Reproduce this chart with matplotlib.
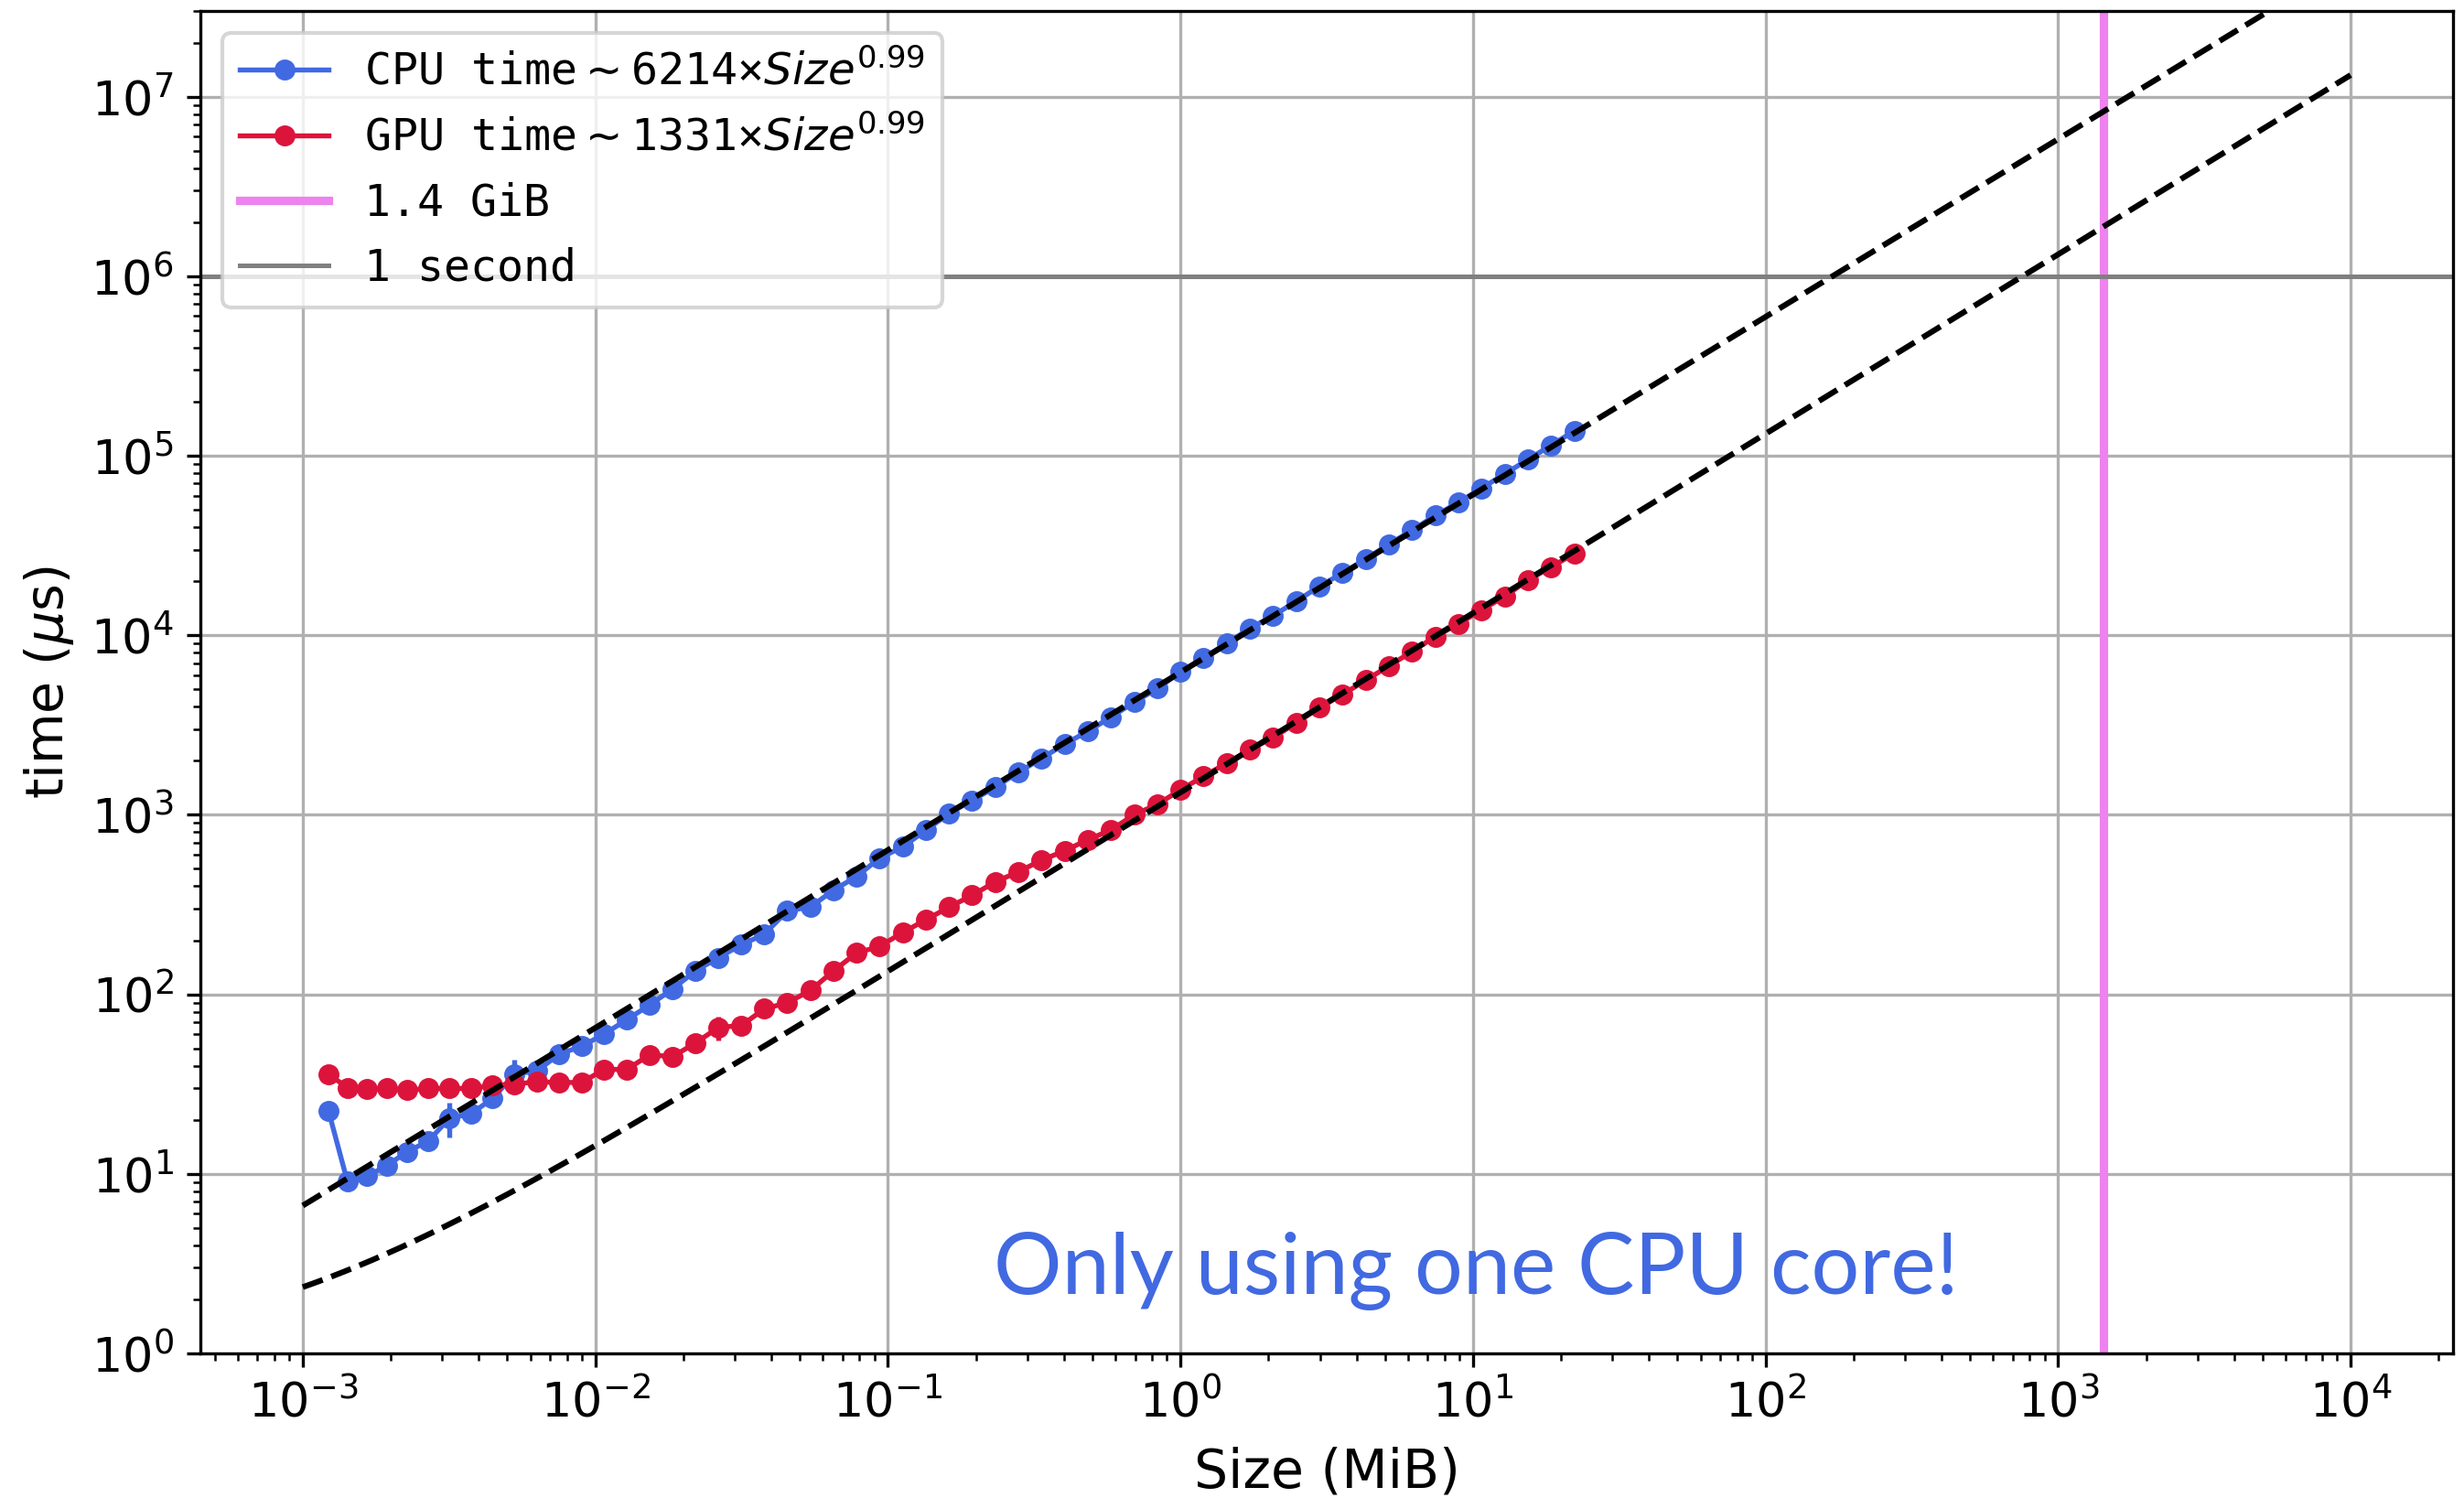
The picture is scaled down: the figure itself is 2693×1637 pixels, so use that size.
import numpy as np
import matplotlib
matplotlib.use("Agg")
import matplotlib.pyplot as plt

# ---------------- data ----------------
sizes_mib = [0.001224, 0.001420, 0.001655, 0.001937, 0.002276, 0.002682, 0.003170,
             0.003755, 0.004457, 0.005299, 0.006310, 0.007524, 0.008980, 0.01073,
             0.01282, 0.01534, 0.01836, 0.02198, 0.02633, 0.03155, 0.03781,
             0.04532, 0.05433, 0.06515, 0.07813, 0.09371, 0.1124, 0.1348,
             0.1618, 0.1941, 0.2328, 0.2793, 0.3351, 0.4021, 0.4825,
             0.5789, 0.6947, 0.8336, 1.000, 1.200, 1.440, 1.728,
             2.074, 2.488, 2.986, 3.583, 4.300, 5.160, 6.192,
             7.430, 8.916, 10.70, 12.84, 15.41, 18.49, 22.19]

cpu_time_us = [22.5, 9.1, 9.7, 11.1, 13.3, 15.2, 20.4,
               21.6, 26.3, 36.0, 37.4, 46.4, 51.4, 60.1,
               72.3, 87.2, 107, 135, 160, 189, 216,
               292, 306, 380, 453, 574, 663, 820,
               1017, 1203, 1425, 1723, 2062, 2478, 2916,
               3500, 4242, 5048, 6243, 7496, 8995, 10930,
               12850, 15440, 18750, 22180, 26620, 32140, 38430,
               46430, 54880, 65910, 79210, 95140, 114300, 137300]

gpu_time_us = [36.0, 30.2, 29.6, 29.9, 29.2, 29.9, 29.9,
               29.9, 31.1, 31.6, 32.6, 32.3, 32.3, 38.2,
               38.2, 46.0, 45.0, 53.5, 65.4, 67.0, 83.0,
               89.8, 105, 135, 170, 185, 221, 260,
               306, 356, 423, 481, 559, 630, 727,
               823, 1001, 1143, 1375, 1640, 1940, 2306,
               2698, 3243, 3956, 4677, 5620, 6748, 8110,
               9843, 11580, 13840, 16450, 20280, 23980, 28510]

cpu_err_us = [0, 1.0, 0, 0, 0, 0, 4.5,
              0, 0, 7.5, 0, 0, 0, 0,
              0, 0, 0, 0, 0, 0, 0,
              35, 0, 0, 0, 0, 0, 0,
              0, 0, 0, 0, 0, 0, 0,
              0, 0, 0, 0, 0, 0, 0,
              0, 0, 0, 0, 0, 0, 0,
              0, 0, 0, 0, 0, 0, 0]

gpu_err_us = [0, 0, 0, 0, 0, 0, 0,
              0, 0, 0, 0, 0, 0, 0,
              0, 0, 0, 0, 10, 0, 0,
              0, 0, 0, 0, 0, 0, 0,
              0, 0, 0, 0, 0, 0, 0,
              0, 0, 0, 0, 0, 0, 0,
              0, 0, 0, 0, 0, 0, 0,
              0, 0, 0, 0, 0, 0, 0]

# power-law fits  time = a * size^b + c
cpu_fit = dict(a=6214, b=0.99, c=0.0)
gpu_fit = dict(a=1331, b=0.999, c=1.0)
fit_range_mib = [1e-3, 1e4]

legend_labels = ["CPU time$\\sim$6214×$Size^{0.99}$",
                 "GPU time$\\sim$1331×$Size^{0.99}$",
                 "1.4 GiB",
                 "1 second"]
mem_limit_mib = 1.4 * 1024
one_second_us = 1e6
note_text = "Only using one CPU core!"
x_decades = [-3, -2, -1, 0, 1, 2, 3, 4]
y_decades = [0, 1, 2, 3, 4, 5, 6, 7]

# ---------------- figure ----------------
W, H, DPI = 2693, 1637, 300
fig = plt.figure(figsize=(W / DPI, H / DPI), dpi=DPI)
ax = fig.add_axes([219 / W, 1 - 1479 / H, (2681 - 219) / W, (1479 - 12) / H])

blue = "#4169E1"   # royalblue
red = "#DC143C"    # crimson

x = np.array(sizes_mib)
ax.plot(x, cpu_time_us, "o-", color=blue, ms=4.5, lw=1.3, label=legend_labels[0], zorder=3)
ax.errorbar(x, cpu_time_us, yerr=cpu_err_us, fmt="none", ecolor=blue, elinewidth=1.3, zorder=3)
ax.plot(x, gpu_time_us, "o-", color=red, ms=4.5, lw=1.3, label=legend_labels[1], zorder=3)
ax.errorbar(x, gpu_time_us, yerr=gpu_err_us, fmt="none", ecolor=red, elinewidth=1.3, zorder=3)

xf = np.logspace(np.log10(fit_range_mib[0]), np.log10(fit_range_mib[1]), 300)
for f in (cpu_fit, gpu_fit):
    ax.plot(xf, f["a"] * xf ** f["b"] + f["c"], "--", color="black", lw=1.5, zorder=4)

ax.axvline(mem_limit_mib, color="violet", lw=2.2, label=legend_labels[2], zorder=2)
ax.axhline(one_second_us, color="gray", lw=1.2, label=legend_labels[3], zorder=2)

ax.set_xscale("log")
ax.set_yscale("log")
ax.set_ylim(1, 3e7)
ax.set_xticks([10.0 ** d for d in x_decades])
ax.set_yticks([10.0 ** d for d in y_decades])
ax.grid(True, which="major", color="#b0b0b0", lw=0.8)
ax.set_axisbelow(True)

ax.tick_params(axis="both", which="major", labelsize=12.6)
ax.set_xlabel("Size (MiB)", fontsize=14, labelpad=5)
ax.set_ylabel(r"time ($\mu$s)", fontsize=13.7)

ax.legend(loc="upper left", prop={"family": "DejaVu Sans Mono", "size": 11.6})

ax.text((1086 - 219) / (2681 - 219), (1479 - 1414) / (1479 - 12), note_text,
        transform=ax.transAxes, ha="left", va="baseline",
        fontsize=22.4, color=blue, family=["Lato", "DejaVu Sans"])

fig.savefig("out.png", dpi=DPI)
